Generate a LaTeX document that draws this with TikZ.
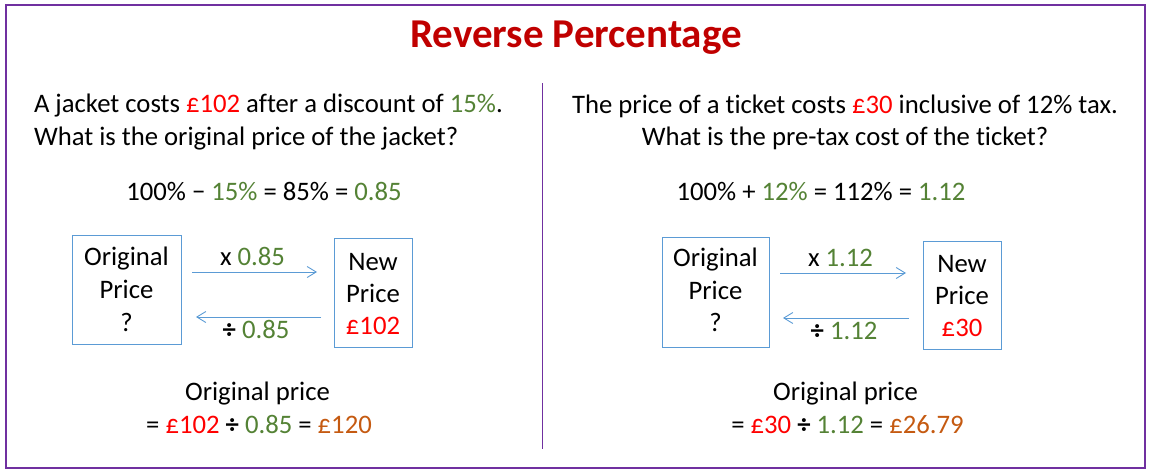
\documentclass[tikz,border=0pt]{standalone}
\usepackage{fontspec}
\setmainfont{Carlito}[Ligatures=NoCommon]
\usetikzlibrary{arrows.meta,calc}
\definecolor{framepurple}{HTML}{7030A0}
\definecolor{titlered}{HTML}{C00000}
\definecolor{pred}{HTML}{FF0000}
\definecolor{pgreen}{HTML}{548235}
\definecolor{porange}{HTML}{C55A11}
\definecolor{boxblue}{HTML}{5B9BD5}
\newcommand{\rd}[1]{\textcolor{pred}{#1}}
\newcommand{\gr}[1]{\textcolor{pgreen}{#1}}
\newcommand{\orc}[1]{\textcolor{porange}{#1}}
\newcommand{\dv}{\textbf{÷}}
\begin{document}
\begin{tikzpicture}[x=1pt,y=-1pt,
  every node/.style={inner sep=0pt, outer sep=0pt, font=\fontsize{26.7}{32}\selectfont},
  txt/.style={anchor=base},
  txtw/.style={anchor=base west},
  pricebox/.style={draw=boxblue, line width=1pt, rectangle},
  conv/.style={draw=boxblue, line width=0.9pt, -{Straight Barb[length=9pt,width=11pt,line width=0.9pt]}}
]
\useasboundingbox (0,0) rectangle (1150,474);
% frame
\draw[framepurple, line width=2pt] (6.3,5) rectangle (1145,467.7);
\draw[framepurple, line width=1pt] (542.3,83.3) -- (542.3,449.3);
% title
\node[txt, font=\fontsize{41}{48}\selectfont\bfseries, text=titlered] (title) at (576,47.7) {Reverse Percentage};

% ---------- left ----------
\node[txtw] (q1a) at (34,112.7) {A jacket costs \rd{£102} after a discount of \gr{15\%}.};
\node[txtw] (q1b) at (34,145) {What is the original price of the jacket?};
\node[txt] (eq1) at (264,200.7) {100\% − \gr{15\%} = 85\% = \gr{0.85}};

\node[pricebox, minimum width=109pt, minimum height=109pt] (op1) at (126.5,289.5) {};
\node[txt] (op1a) at (126.5,265) {Original};
\node[txt] (op1b) at (126.5,298) {Price};
\node[txt] (op1c) at (126.5,331) {?};

\node[pricebox, minimum width=78pt, minimum height=109pt] (np1) at (373,292.5) {};
\node[txt] (np1a) at (373,270) {New};
\node[txt] (np1b) at (373,302) {Price};
\node[txt] (np1c) at (373,334) {\rd{£102}};

\coordinate (a1s) at (192,272);
\coordinate (a1e) at (317,272);
\coordinate (b1s) at (321,317);
\coordinate (b1e) at (196,317);
\draw[conv] (a1s) -- (a1e);
\draw[conv] (b1s) -- (b1e);
\node[txt] (m1) at (252.5,265) {x \gr{0.85}};
\node[txt] (d1) at (256,338) {\dv{} \gr{0.85}};

\node[txt] (r1a) at (257.5,400) {Original price};
\node[txt] (r1b) at (259,433) {= \rd{£102} \dv{} \gr{0.85} = \orc{£120}};

% ---------- right ----------
\node[txt] (q2a) at (845,113) {The price of a ticket costs \rd{£30} inclusive of 12\% tax.};
\node[txt] (q2b) at (845,145) {What is the pre-tax cost of the ticket?};
\node[txt] (eq2) at (821,200.7) {100\% + \gr{12\%} = 112\% = \gr{1.12}};

\node[pricebox, minimum width=107pt, minimum height=110pt] (op2) at (715.5,292) {};
\node[txt] (op2a) at (715.5,266.5) {Original};
\node[txt] (op2b) at (715.5,299) {Price};
\node[txt] (op2c) at (715.5,331.5) {?};

\node[pricebox, minimum width=78pt, minimum height=108pt] (np2) at (962,295) {};
\node[txt] (np2a) at (962,272.5) {New};
\node[txt] (np2b) at (962,304.5) {Price};
\node[txt] (np2c) at (962,336.5) {\rd{£30}};

\coordinate (a2s) at (780,273);
\coordinate (a2e) at (906,273);
\coordinate (b2s) at (909,318);
\coordinate (b2e) at (783,318);
\draw[conv] (a2s) -- (a2e);
\draw[conv] (b2s) -- (b2e);
\node[txt] (m2) at (840.5,266) {x \gr{1.12}};
\node[txt] (d2) at (844,339) {\dv{} \gr{1.12}};

\node[txt] (r2a) at (845.5,400) {Original price};
\node[txt] (r2b) at (847.5,433) {= \rd{£30} \dv{} \gr{1.12} = \orc{£26.79}};
\end{tikzpicture}
\end{document}
